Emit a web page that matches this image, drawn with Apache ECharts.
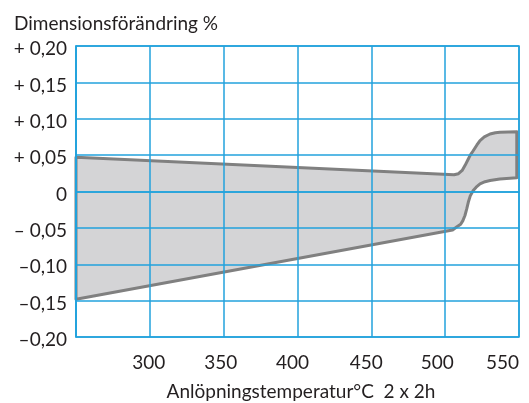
<!DOCTYPE html>
<html>
<head>
<meta charset="utf-8">
<style>
  html, body { margin: 0; padding: 0; background: #fff; }
  #chart { width: 529px; height: 403px; }
</style>
<script src="https://cdn.jsdelivr.net/npm/echarts@6/dist/echarts.min.js"></script>
</head>
<body>
<div id="chart"></div>
<script>
// Temperature ticks (°C) and dimension-change ticks (%)
const xTicks = [250, 300, 350, 400, 450, 500, 550];
const xTickLabels = ['', '300', '350', '400', '450', '500', '550'];
const yTicks = [-0.20, -0.15, -0.10, -0.05, 0, 0.05, 0.10, 0.15, 0.20];
const yTickLabels = ['–0,20', '–0,15', '–0,10', '– 0,05', '0', '+ 0,05', '+ 0,10', '+ 0,15', '+ 0,20'];

// Upper boundary of the band: [temperature, change %]
const upperTemp = [250, 506, 509, 511.5, 513.5, 515.5, 517, 519, 521.5, 523.6, 526.5, 530.4, 534, 537.1, 548.5];
const upperChange = [0.047, 0.023, 0.0245, 0.029, 0.036, 0.044, 0.05, 0.056, 0.064, 0.070, 0.075, 0.079, 0.0808, 0.0815, 0.082];

// Lower boundary of the band
const lowerTemp = [250, 505, 508, 510.5, 512, 513.4, 514.6, 515.7, 517, 519, 521, 523.6, 527, 530.4, 537, 548.5];
const lowerChange = [-0.148, -0.053, -0.0485, -0.045, -0.04, -0.033, -0.024, -0.0145, -0.006, 0.0014, 0.006, 0.0105, 0.0135, 0.015, 0.0172, 0.0188];

const upper = upperTemp.map((t, i) => [t, upperChange[i]]);
const lower = lowerTemp.map((t, i) => [t, lowerChange[i]]);
// Closed outline: along the top, down the right side, back along the bottom
const outline = upper.concat(lower.slice().reverse());

const FONT = 'Lato';
const FS = 19;
const TEXT = '#231f20';
const GRID = '#22a2dc';

// Small per-label nudges for the temperature labels
const xShift = { '300': 1, '350': 3, '400': 5, '450': 5, '500': 8 };
const xRich = {};
Object.keys(xShift).forEach(k => {
  xRich['s' + k] = { padding: [0, xShift[k] * 2, 0, 0], fontFamily: FONT, fontSize: FS, color: TEXT };
});

const chart = echarts.init(document.getElementById('chart'), null, { renderer: 'canvas' });

chart.setOption({
  animation: false,
  backgroundColor: '#ffffff',
  title: {
    text: 'Dimensionsförändring %',
    left: 9,
    top: 9,
    textStyle: { fontFamily: FONT, fontSize: FS, fontWeight: 'normal', color: TEXT }
  },
  grid: {
    left: 76, right: 10, top: 46, bottom: 66,
    containLabel: false,
    outerBoundsMode: 'none',
    show: true, borderColor: GRID, borderWidth: 1.5
  },
  xAxis: {
    type: 'value',
    min: 250, max: 550, interval: 50,
    name: 'Anlöpningstemperatur°C  2 x 2h',
    nameLocation: 'middle',
    nameGap: 45,
    nameTextStyle: { fontFamily: FONT, fontSize: FS, color: TEXT, padding: [0, 0, 0, 7] },
    axisLine: { show: true, lineStyle: { color: GRID, width: 1.5 } },
    axisTick: { show: false },
    splitLine: { show: true, lineStyle: { color: GRID, width: 1.5 } },
    axisLabel: {
      margin: 16,
      alignMaxLabel: 'right',
      fontFamily: FONT, fontSize: FS, color: TEXT,
      rich: xRich,
      formatter: v => {
        const s = xTickLabels[xTicks.indexOf(Math.round(v))] || '';
        return xShift[s] ? '{s' + s + '|' + s + '}' : s;
      }
    }
  },
  yAxis: {
    type: 'value',
    min: -0.20, max: 0.20, interval: 0.05,
    axisLine: { show: true, lineStyle: { color: GRID, width: 1.5 } },
    axisTick: { show: false },
    splitLine: { show: true, lineStyle: { color: GRID, width: 1.5 } },
    axisLabel: {
      margin: 9,
      fontFamily: FONT, fontSize: FS, color: TEXT,
      rich: { v: { padding: [6, 0, 0, 0], fontFamily: FONT, fontSize: FS, color: TEXT } },
      formatter: v => {
        const i = yTicks.findIndex(t => Math.abs(t - v) < 1e-6);
        return i >= 0 ? '{v|' + yTickLabels[i] + '}' : '';
      }
    }
  },
  series: [{
    type: 'custom',
    z: -1,
    clip: false,
    data: [0],
    renderItem: (params, api) => {
      const pts = outline.map(p => api.coord(p));
      return {
        type: 'polygon',
        shape: { points: pts },
        style: {
          fill: '#d4d4d6',
          stroke: '#808080',
          lineWidth: 3,
          lineJoin: 'round'
        }
      };
    }
  }]
});
</script>
</body>
</html>
